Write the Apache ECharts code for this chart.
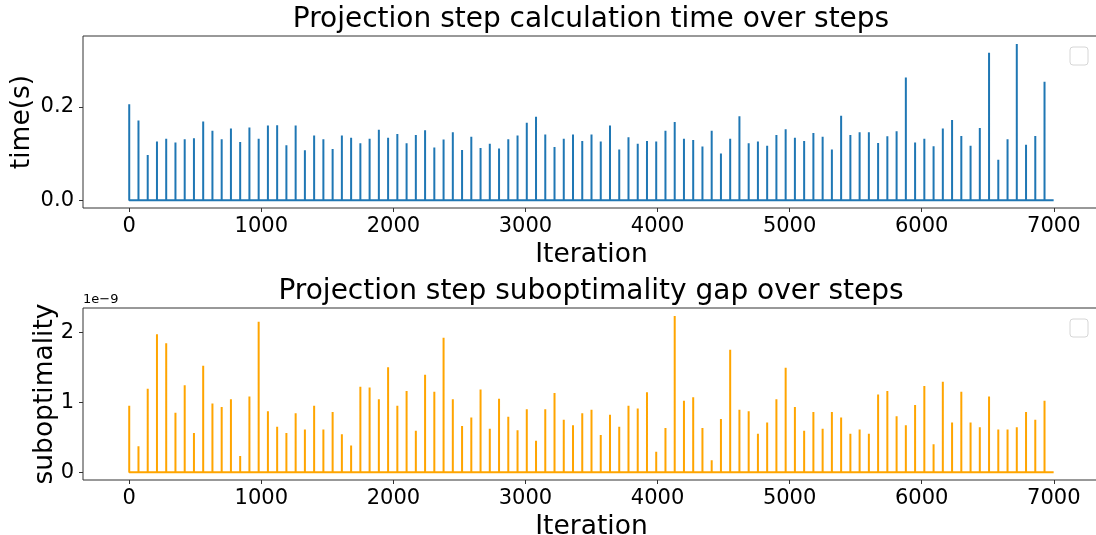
<!DOCTYPE html>
<html>
<head>
<meta charset="utf-8">
<script src="https://cdn.jsdelivr.net/npm/echarts@6/dist/echarts.min.js"></script>
<style>
  html, body { margin: 0; padding: 0; background: #fff; }
  #chart { width: 1096px; height: 535px; }
</style>
</head>
<body>
<div id="chart"></div>
<script>
// projection step measured every 70 iterations, 0 otherwise
var nIter = 7000;
var spikeEvery = 70;

var timeValues = [
  0.206, 0.171, 0.097, 0.126, 0.132, 0.124, 0.131, 0.133, 0.169, 0.149,
  0.131, 0.154, 0.125, 0.156, 0.132, 0.160, 0.161, 0.118, 0.160, 0.107,
  0.139, 0.131, 0.110, 0.139, 0.134, 0.122, 0.132, 0.151, 0.134, 0.142,
  0.122, 0.140,
  0.150, 0.113, 0.130, 0.146, 0.108, 0.136, 0.112, 0.121, 0.111, 0.131,
  0.139, 0.166, 0.179, 0.141, 0.114, 0.132, 0.141, 0.127, 0.141, 0.126,
  0.160, 0.109, 0.135, 0.121, 0.127, 0.126, 0.149, 0.168, 0.132, 0.129,
  0.115, 0.149, 0.100, 0.132, 0.180,
  0.122, 0.126, 0.117, 0.140, 0.152, 0.134, 0.127, 0.144, 0.136, 0.109,
  0.181, 0.140, 0.146, 0.146, 0.123, 0.137, 0.148, 0.263, 0.124, 0.132,
  0.116, 0.154, 0.172, 0.138, 0.117, 0.155, 0.316, 0.087, 0.131, 0.335,
  0.119, 0.138, 0.254
];

// suboptimality gap, in units of 1e-9
var gapValues = [
  0.95, 0.37, 1.19, 1.97, 1.84, 0.85, 1.24, 0.56, 1.52, 0.98,
  0.93, 1.04, 0.23, 1.08, 2.15, 0.87, 0.65, 0.56, 0.84, 0.61,
  0.95, 0.61, 0.86, 0.54, 0.38, 1.22, 1.21, 1.04, 1.50, 0.95,
  1.16, 0.59,
  1.39, 1.15, 1.92, 1.04, 0.66, 0.78, 1.18, 0.62, 1.05, 0.79,
  0.60, 0.90, 0.45, 0.90, 1.13, 0.75, 0.67, 0.84, 0.89, 0.53,
  0.82, 0.65, 0.95, 0.91, 1.14, 0.29, 0.63, 2.23, 1.02, 1.07,
  0.63, 0.17, 0.76, 1.75, 0.89,
  0.87, 0.55, 0.71, 1.04, 1.49, 0.93, 0.59, 0.86, 0.62, 0.86,
  0.78, 0.55, 0.61, 0.55, 1.11, 1.16, 0.80, 0.67, 0.96, 1.23,
  0.40, 1.29, 0.71, 1.15, 0.71, 0.64, 1.08, 0.61, 0.61, 0.64,
  0.86, 0.75, 1.02
];

var xTicks = [0, 1000, 2000, 3000, 4000, 5000, 6000, 7000];
var timeTicks = [0, 0.2];
var gapTicks = [0, 1, 2];

// every iteration is 0 except the measured ones, so the line is a baseline
// with a thin spike at each measurement
function buildSeries(vals) {
  var out = [];
  for (var k = 0; k < vals.length; k++) {
    var it = k * spikeEvery;
    if (k > 0) out.push([it, 0]);
    out.push([it, vals[k]]);
    out.push([it, 0]);
  }
  out.push([nIter - 1, 0]);
  return out;
}

var FONT = "DejaVu Sans";
var spine = "#333";

function xAxisCfg(gi) {
  return {
    type: "value",
    gridIndex: gi,
    min: -350,
    max: 7350,
    name: "Iteration",
    nameLocation: "middle",
    nameGap: 34,
    nameTextStyle: { fontFamily: FONT, fontSize: 26.5, color: "#000" },
    axisLine: { show: false, onZero: false },
    splitLine: { show: false },
    axisTick: { show: true, length: 4, customValues: xTicks, lineStyle: { color: spine } },
    axisLabel: {
      customValues: xTicks, fontFamily: FONT, fontSize: 21, color: "#000", margin: 8,
      formatter: function (v) { return String(v); },
    },
  };
}

function yName(text, x, y) {
  return {
    type: "text", x: x, y: y, rotation: Math.PI / 2,
    style: { text: text, font: "26.5px 'DejaVu Sans'", fill: "#000", textAlign: "center", textVerticalAlign: "middle" },
  };
}

var chart = echarts.init(document.getElementById("chart"));
var option = {
  animation: false,
  backgroundColor: "#fff",
  grid: [
    { left: 83, top: 36, width: 1017, height: 172, show: true, borderColor: spine, borderWidth: 1, outerBoundsMode: "none" },
    { left: 83, top: 308, width: 1017, height: 172, show: true, borderColor: spine, borderWidth: 1, outerBoundsMode: "none" },
  ],
  xAxis: [xAxisCfg(0), xAxisCfg(1)],
  yAxis: [
    {
      type: "value",
      gridIndex: 0,
      min: -0.0165,
      max: 0.352,
      axisLine: { show: false, onZero: false },
      splitLine: { show: false },
      axisTick: { show: true, length: 4, customValues: timeTicks, lineStyle: { color: spine } },
      axisLabel: {
        customValues: timeTicks, fontFamily: FONT, fontSize: 21, color: "#000", margin: 9,
        formatter: function (v) { return v.toFixed(1); },
      },
    },
    {
      type: "value",
      gridIndex: 1,
      min: -0.112,
      max: 2.345,
      axisLine: { show: false, onZero: false },
      splitLine: { show: false },
      axisTick: { show: true, length: 4, customValues: gapTicks, lineStyle: { color: spine } },
      axisLabel: {
        customValues: gapTicks, fontFamily: FONT, fontSize: 21, color: "#000", margin: 9,
        formatter: function (v) { return String(v); },
      },
    },
  ],
  graphic: [
    { type: "text", x: 591, y: 20, style: { text: "Projection step calculation time over steps", font: "28px 'DejaVu Sans'", fill: "#000", textAlign: "center", textVerticalAlign: "middle" } },
    { type: "text", x: 591, y: 292, style: { text: "Projection step suboptimality gap over steps", font: "28px 'DejaVu Sans'", fill: "#000", textAlign: "center", textVerticalAlign: "middle" } },
    yName("time(s)", 22, 122),
    yName("suboptimality", 45, 394),
    { type: "text", x: 83, y: 300, style: { text: "1e\u22129", font: "13px 'DejaVu Sans'", fill: "#000", textAlign: "left", textVerticalAlign: "middle" } },
    { type: "rect", shape: { x: 1070, y: 47, width: 18, height: 18, r: 3 }, style: { fill: "#fff", stroke: "#d6d6d6", lineWidth: 1 } },
    { type: "rect", shape: { x: 1070, y: 319, width: 18, height: 18, r: 3 }, style: { fill: "#fff", stroke: "#d6d6d6", lineWidth: 1 } },
  ],
  series: [
    {
      type: "line",
      xAxisIndex: 0,
      yAxisIndex: 0,
      data: buildSeries(timeValues),
      showSymbol: false,
      lineStyle: { color: "#1f77b4", width: 2, join: "bevel", cap: "butt" },
    },
    {
      type: "line",
      xAxisIndex: 1,
      yAxisIndex: 1,
      data: buildSeries(gapValues),
      showSymbol: false,
      lineStyle: { color: "#ffa500", width: 2, join: "bevel", cap: "butt" },
    },
  ],
};
chart.setOption(option);
</script>
</body>
</html>
